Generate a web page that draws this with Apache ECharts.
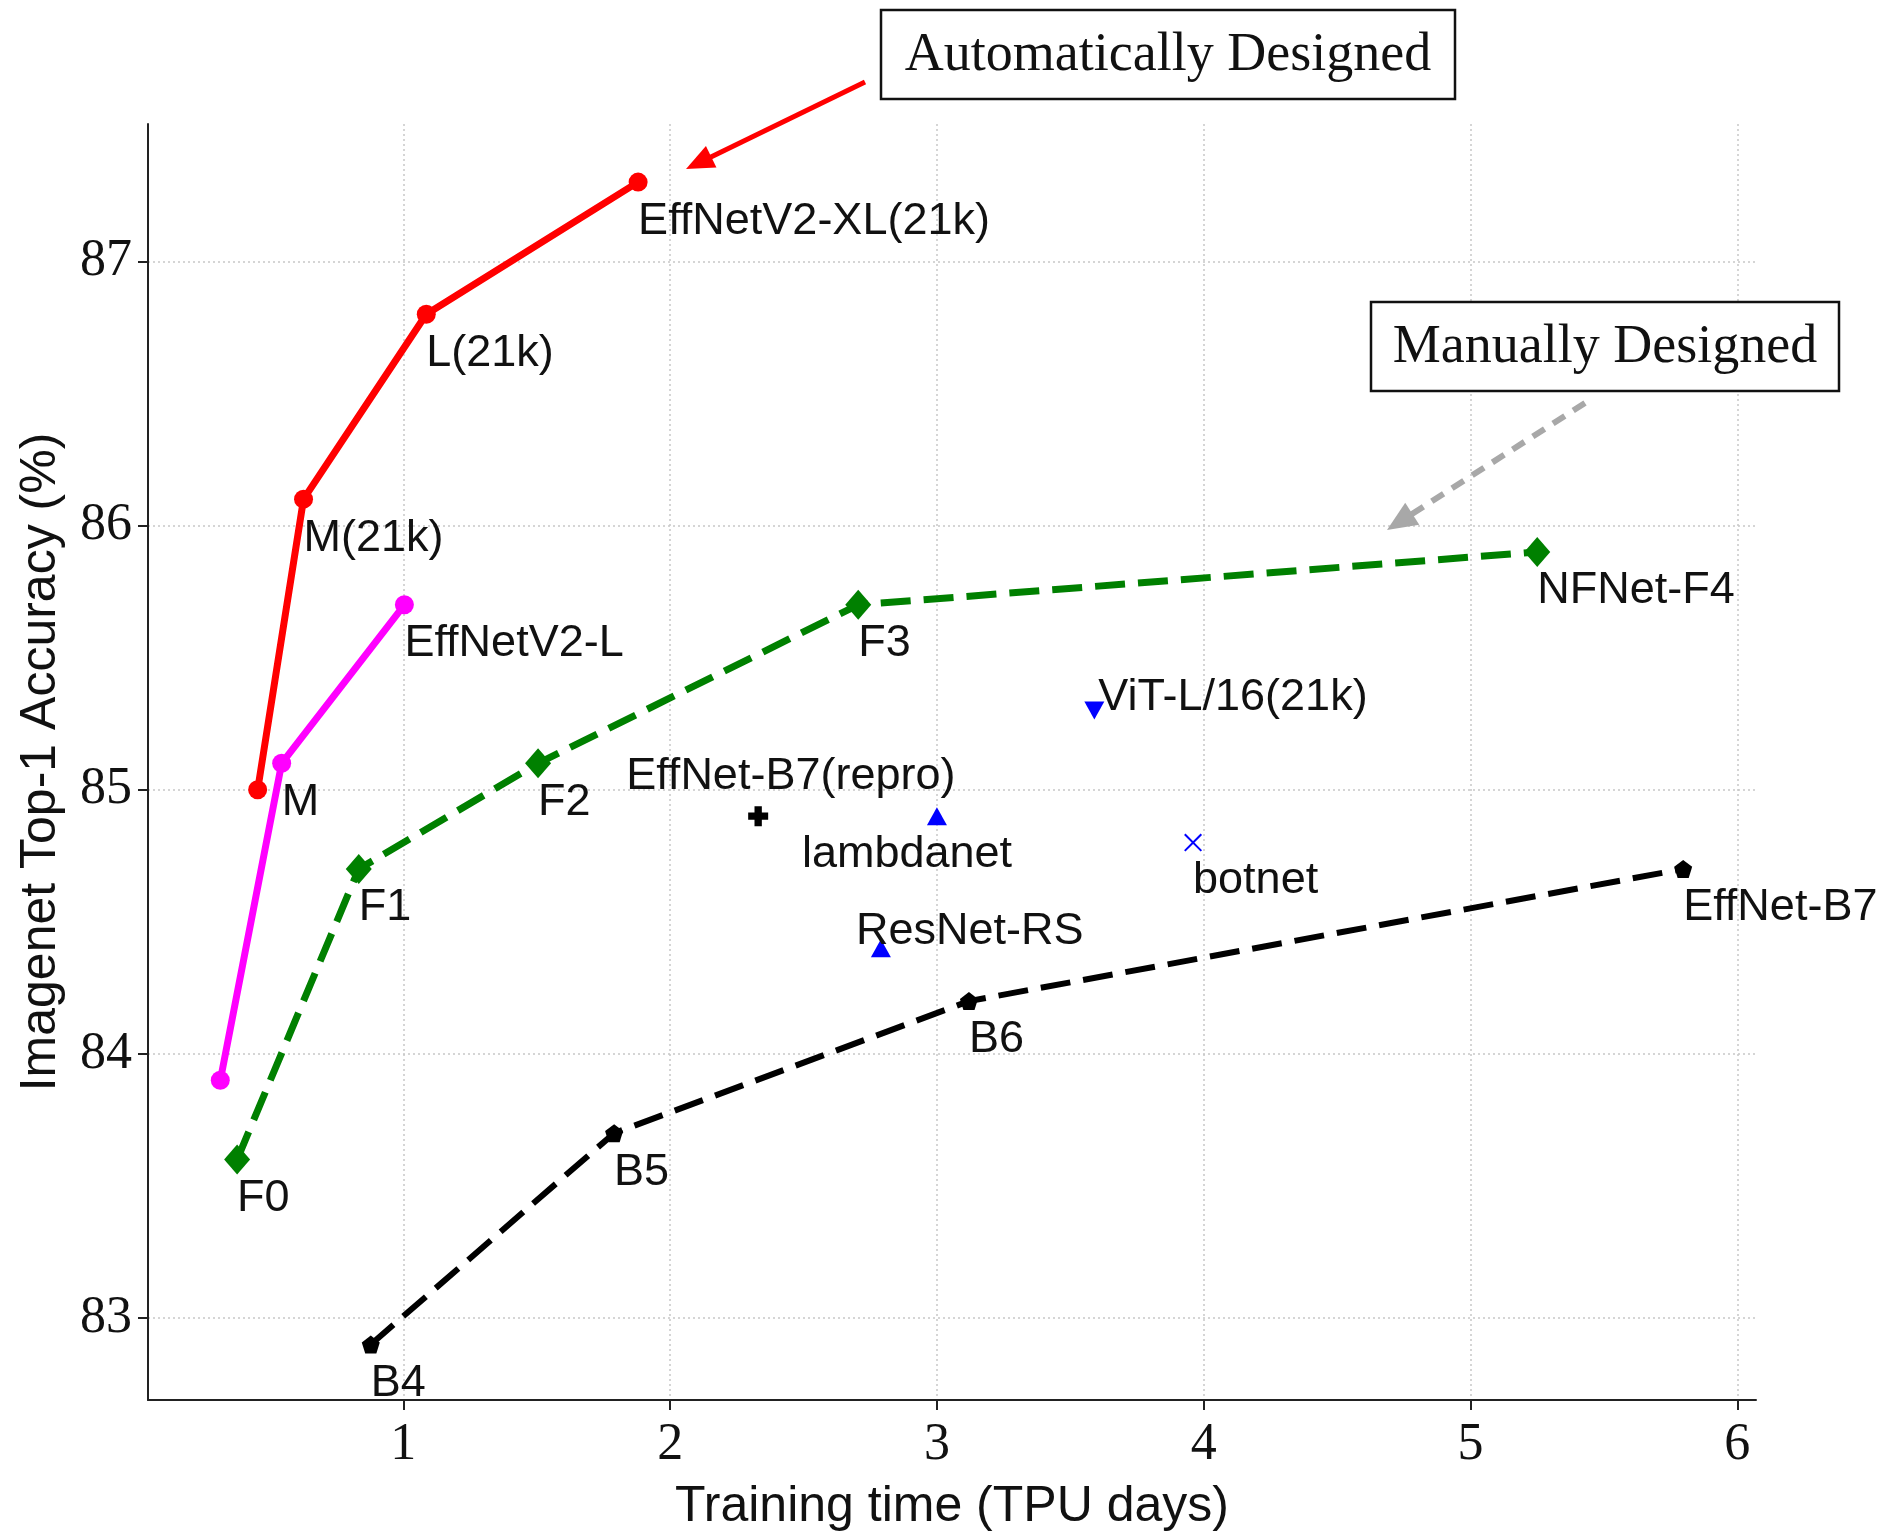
<!DOCTYPE html>
<html><head><meta charset="utf-8">
<script src="https://cdn.jsdelivr.net/npm/echarts@6/dist/echarts.min.js"></script>
<style>html,body{margin:0;padding:0;background:#fff}#c{width:1888px;height:1533px}</style>
</head><body><div id="c"></div>
<script>
const xTicks = [1, 2, 3, 4, 5, 6];
const yTicks = [83, 84, 85, 86, 87];

const v2in21kX = [0.454, 0.626, 1.086, 1.88];
const v2in21kY = [85.0, 86.1, 86.8, 87.3];
const v2in21kLabels = ['', 'M(21k)', 'L(21k)', 'EffNetV2-XL(21k)'];

const v2X = [0.314, 0.544, 1.004];
const v2Y = [83.9, 85.1, 85.7];
const v2Labels = ['', 'M', 'EffNetV2-L'];

const nfX = [0.377, 0.833, 1.505, 2.705, 5.25];
const nfY = [83.6, 84.7, 85.1, 85.7, 85.9];
const nfLabels = ['F0', 'F1', 'F2', 'F3', 'NFNet-F4'];

const effX = [0.878, 1.79, 3.12, 5.797];
const effY = [82.9, 83.7, 84.2, 84.7];
const effLabels = ['B4', 'B5', 'B6', 'EffNet-B7'];

const otherNames = ['EffNet-B7(repro)', 'lambdanet', 'ResNet-RS', 'ViT-L/16(21k)', 'botnet'];
const otherX = [2.33, 3.0, 2.79, 3.59, 3.96];
const otherY = [84.9, 84.9, 84.4, 85.3, 84.8];

const SANS = 'Liberation Sans, Arial, sans-serif';
const SERIF = 'Liberation Serif, Times New Roman, serif';

function lineSeries(name, xs, ys, labels, color, symbol, size, lineType, width) {
  return {
    type: 'line', name: name,
    data: xs.map((x, i) => ({ value: [x, ys[i]], label: { show: !!labels[i], formatter: labels[i] || '' } })),
    symbol: symbol, symbolSize: size,
    lineStyle: { color: color, width: width, type: lineType },
    itemStyle: { color: color, opacity: 1 },
    label: { position: 'inside', align: 'left', verticalAlign: 'middle', offset: [0, 39],
      fontSize: 45, fontFamily: SANS, color: '#111' },
    emphasis: { disabled: true },
    animation: false, z: 3
  };
}

function pointSeries(i, symbol, size, color, rotate, align, offset) {
  return {
    type: 'scatter', name: otherNames[i],
    data: [{ value: [otherX[i], otherY[i]], label: { formatter: otherNames[i] } }],
    symbol: symbol, symbolSize: size, symbolRotate: rotate || 0,
    itemStyle: { color: color, opacity: 1 },
    label: { show: true, position: 'inside', align: align, verticalAlign: 'middle', offset: offset,
      fontSize: 45, fontFamily: SANS, color: '#111', opacity: 1 },
    emphasis: { disabled: true },
    animation: false, z: 4
  };
}

const PENT = 'path://M0,-10 L9.51,-3.09 L5.88,8.09 L-5.88,8.09 L-9.51,-3.09 Z';
const PLUS = 'path://M-1.1,-3 L1.1,-3 L1.1,-1.1 L3,-1.1 L3,1.1 L1.1,1.1 L1.1,3 L-1.1,3 L-1.1,1.1 L-3,1.1 L-3,-1.1 L-1.1,-1.1 Z';
const XMARK = 'path://M-5,-4.2 L-4.2,-5 L5,4.2 L4.2,5 Z M4.2,-5 L5,-4.2 L-4.2,5 L-5,4.2 Z';

function arrow(x1, y1, x2, y2, color, width, dash, headLen, headW) {
  const dx = x2 - x1, dy = y2 - y1, L = Math.hypot(dx, dy);
  const ux = dx / L, uy = dy / L;
  const bx = x2 - ux * headLen, by = y2 - uy * headLen;
  const px = -uy, py = ux;
  return [
    { type: 'line', shape: { x1: x1, y1: y1, x2: bx + ux * 2, y2: by + uy * 2 },
      style: { stroke: color, lineWidth: width, lineDash: dash || null }, z: 10 },
    { type: 'polygon', shape: { points: [[x2, y2], [bx + px * headW / 2, by + py * headW / 2], [bx - px * headW / 2, by - py * headW / 2]] },
      style: { fill: color }, z: 10 }
  ];
}

const chart = echarts.init(document.getElementById('c'), null, { renderer: 'canvas' });
chart.setOption({
  backgroundColor: '#fff',
  animation: false,
  grid: { left: 148, top: 124, right: 132, bottom: 133, containLabel: false, outerBoundsMode: 'none' },
  xAxis: {
    type: 'value', min: 0.043, max: 6.07,
    axisLine: { show: true, onZero: false, lineStyle: { color: '#222', width: 2 } },
    axisTick: { show: true, customValues: xTicks, length: 10, lineStyle: { color: '#222', width: 2 } },
    axisLabel: { customValues: xTicks, fontFamily: SERIF, fontSize: 52, color: '#111', margin: 19 },
    splitLine: { show: true, lineStyle: { color: '#c8c8c8', width: 1.5, type: [2, 3] } },
    name: 'Training time (TPU days)', nameLocation: 'middle', nameGap: 82,
    nameTextStyle: { fontFamily: SANS, fontSize: 50, color: '#111' }
  },
  yAxis: {
    type: 'value', min: 82.69, max: 87.52,
    axisLine: { show: true, onZero: false, lineStyle: { color: '#222', width: 2 } },
    axisTick: { show: true, customValues: yTicks, length: 10, lineStyle: { color: '#222', width: 2 } },
    axisLabel: { customValues: yTicks, fontFamily: SERIF, fontSize: 52, color: '#111', margin: 16 },
    splitLine: { show: true, lineStyle: { color: '#c8c8c8', width: 1.5, type: [2, 3] } },
    name: 'Imagenet Top-1 Accuracy (%)', nameLocation: 'middle', nameGap: 82,
    nameTextStyle: { fontFamily: SANS, fontSize: 50, color: '#111' }
  },
  series: [
    lineSeries('EffNetV2 (21k)', v2in21kX, v2in21kY, v2in21kLabels, '#ff0000', 'circle', 19, 'solid', 7),
    lineSeries('EffNetV2', v2X, v2Y, v2Labels, '#ff00ff', 'circle', 19, 'solid', 7),
    lineSeries('NFNet', nfX, nfY, nfLabels, '#008000', 'diamond', [26, 30], [30, 13], 7),
    lineSeries('EffNet', effX, effY, effLabels, '#000000', PENT, 18, [30, 13], 6),
    pointSeries(0, PLUS, 20, '#000000', 0, 'left', [-132, -40]),
    pointSeries(1, 'triangle', [20, 18], '#0000ff', 0, 'left', [-135, 38]),
    pointSeries(2, 'triangle', [20, 18], '#0000ff', 0, 'left', [-25, -17]),
    pointSeries(3, 'triangle', [20, 18], '#0000ff', 180, 'left', [4, -13]),
    pointSeries(4, XMARK, 18, '#0000ff', 0, 'left', [0, 38])
  ],
  graphic: [
    { type: 'rect', shape: { x: 881, y: 10, width: 574, height: 89 },
      style: { fill: '#fff', stroke: '#111', lineWidth: 2.5 }, z: 10 },
    { type: 'text', x: 1168, y: 56, style: { text: 'Automatically Designed', font: '54px ' + SERIF,
      fill: '#111', align: 'center', verticalAlign: 'middle' }, z: 11 },
    { type: 'rect', shape: { x: 1371, y: 302, width: 468, height: 89 },
      style: { fill: '#fff', stroke: '#111', lineWidth: 2.5 }, z: 10 },
    { type: 'text', x: 1605, y: 348, style: { text: 'Manually Designed', font: '54px ' + SERIF,
      fill: '#111', align: 'center', verticalAlign: 'middle' }, z: 11 }
  ].concat(arrow(865, 82, 686, 169, '#ff0000', 5, null, 28, 24))
   .concat(arrow(1585, 403, 1387, 530, '#a8a8a8', 6, [14, 10], 30, 26))
});
</script>
</body></html>
